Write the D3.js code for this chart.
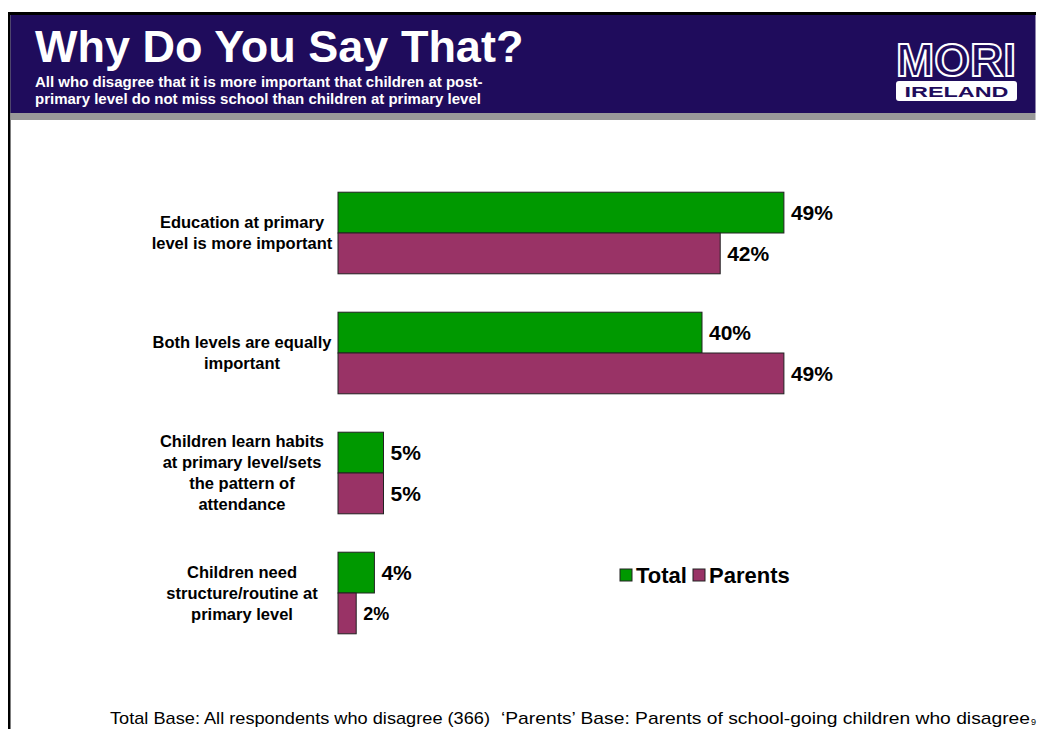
<!DOCTYPE html>
<html>
<head>
<meta charset="utf-8">
<script src="https://cdn.jsdelivr.net/npm/d3@7"></script>
<style>
  html, body { margin: 0; padding: 0; background: #ffffff; }
  svg { display: block; }
  text { font-family: "Liberation Sans", Arial, Helvetica, sans-serif; }
</style>
</head>
<body>
<div id="chart"></div>
<script>
// Reasons given, one entry per category (each label split into its printed lines)
const categories = [
  "Education at primary level is more important",
  "Both levels are equally important",
  "Children learn habits at primary level/sets the pattern of attendance",
  "Children need structure/routine at primary level"
];
const categoryLines = [
  ["Education at primary", "level is more important"],
  ["Both levels are equally", "important"],
  ["Children learn habits", "at primary level/sets", "the pattern of", "attendance"],
  ["Children need", "structure/routine at", "primary level"]
];
const seriesNames = ["Total", "Parents"];
const totalValues = [49, 40, 5, 4];
const parentsValues = [42, 49, 5, 2];

const titleText = "Why Do You Say That?";
const subtitleLines = [
  "All who disagree that it is more important that children at post-",
  "primary level do not miss school than children at primary level"
];
const footLeft = "Total Base: All respondents who disagree (366)";
const footRight = "\u2018Parents\u2019 Base: Parents of school-going children who disagree";
const pageNumber = "9";

const W = 1040, H = 729;
const navy = "#1f0c5c";
const colors = { Total: "#009900", Parents: "#993366" };

const svg = d3.select("#chart").append("svg")
  .attr("width", W).attr("height", H);

// Slide frame and header band
svg.append("rect").attr("x", 0).attr("y", 0).attr("width", W).attr("height", H).attr("fill", "#fff");
svg.append("rect").attr("x", 8).attr("y", 12).attr("width", 1028).attr("height", 3).attr("fill", "#000");
svg.append("rect").attr("x", 8).attr("y", 12).attr("width", 2.5).attr("height", H - 12).attr("fill", "#000");
svg.append("rect").attr("x", 10.5).attr("y", 15).attr("width", 1025).attr("height", 98).attr("fill", navy);
svg.append("rect").attr("x", 10.5).attr("y", 113).attr("width", 1025).attr("height", 7).attr("fill", "#999");

svg.append("text").attr("x", 35).attr("y", 62)
  .attr("fill", "#fff").attr("font-weight", "bold").attr("font-size", 45)
  .text(titleText);
svg.append("g").selectAll("text").data(subtitleLines).join("text")
  .attr("x", 35).attr("y", (d, i) => 87 + i * 17)
  .attr("fill", "#fff").attr("font-weight", "bold").attr("font-size", 15)
  .text(d => d);

// MORI Ireland logo
const logo = svg.append("g");
logo.append("text").attr("x", 956).attr("y", 76).attr("text-anchor", "middle")
  .attr("font-size", 46).attr("font-weight", "bold")
  .attr("textLength", 120).attr("lengthAdjust", "spacingAndGlyphs")
  .attr("fill", navy).attr("stroke", "#fff").attr("stroke-width", 2)
  .text("MORI");
logo.append("rect").attr("x", 896).attr("y", 81).attr("width", 121).attr("height", 20)
  .attr("rx", 3).attr("fill", "#fff");
logo.append("text").attr("x", 956.5).attr("y", 97).attr("text-anchor", "middle")
  .attr("font-size", 14).attr("font-weight", "bold")
  .attr("textLength", 104).attr("lengthAdjust", "spacingAndGlyphs")
  .attr("fill", navy).text("IRELAND");

// Scales
const x = d3.scaleLinear().domain([0, 50]).range([338, 793]);
const y = d3.scaleBand().domain(categories).range([173, 653])
  .paddingInner(0.32).paddingOuter(0.16);
const ySub = d3.scaleBand().domain(seriesNames).range([0, y.bandwidth()]);

const rows = categories.map((c, i) => ({
  category: c,
  lines: categoryLines[i],
  values: [
    { series: "Total", value: totalValues[i] },
    { series: "Parents", value: parentsValues[i] }
  ]
}));

const groups = svg.append("g").selectAll("g").data(rows).join("g")
  .attr("transform", d => `translate(0,${y(d.category)})`);

groups.selectAll("rect.bar").data(d => d.values).join("rect")
  .attr("class", "bar")
  .attr("x", x(0))
  .attr("y", d => ySub(d.series))
  .attr("width", d => x(d.value) - x(0))
  .attr("height", ySub.bandwidth())
  .attr("fill", d => colors[d.series])
  .attr("stroke", "#222").attr("stroke-width", 1);

groups.selectAll("text.val").data(d => d.values).join("text")
  .attr("class", "val")
  .attr("x", d => x(d.value) + 7)
  .attr("y", d => ySub(d.series) + ySub.bandwidth() / 2)
  .attr("dy", "0.36em")
  .attr("font-weight", "bold")
  .attr("font-size", d => d.value < 3 ? 18 : 21)
  .attr("fill", "#000")
  .text(d => d.value + "%");

// Category labels, centred beside each pair of bars
groups.each(function (d) {
  const n = d.lines.length;
  const lh = 21;
  d3.select(this).append("g").selectAll("text").data(d.lines).join("text")
    .attr("x", 242)
    .attr("y", (t, i) => y.bandwidth() / 2 + (i - (n - 1) / 2) * lh)
    .attr("dy", "0.36em")
    .attr("text-anchor", "middle")
    .attr("font-weight", "bold").attr("font-size", 16.5)
    .attr("fill", "#000")
    .text(t => t);
});

// Legend
const legend = svg.append("g").attr("transform", "translate(620,569)");
const legendX = [0, 73];
seriesNames.forEach((s, i) => {
  const g = legend.append("g").attr("transform", `translate(${legendX[i]},0)`);
  g.append("rect").attr("width", 12).attr("height", 12)
    .attr("fill", colors[s]).attr("stroke", "#222").attr("stroke-width", 1);
  g.append("text").attr("x", 16).attr("y", 6).attr("dy", "0.36em")
    .attr("font-weight", "bold").attr("font-size", 22).text(s);
});

// Footer notes
svg.append("text").attr("x", 110).attr("y", 724).attr("font-size", 17)
  .attr("textLength", 380).attr("lengthAdjust", "spacingAndGlyphs").text(footLeft);
svg.append("text").attr("x", 501).attr("y", 724).attr("font-size", 17)
  .attr("textLength", 529).attr("lengthAdjust", "spacingAndGlyphs").text(footRight);
svg.append("text").attr("x", 1031).attr("y", 725).attr("font-size", 9).text(pageNumber);
</script>
</body>
</html>
